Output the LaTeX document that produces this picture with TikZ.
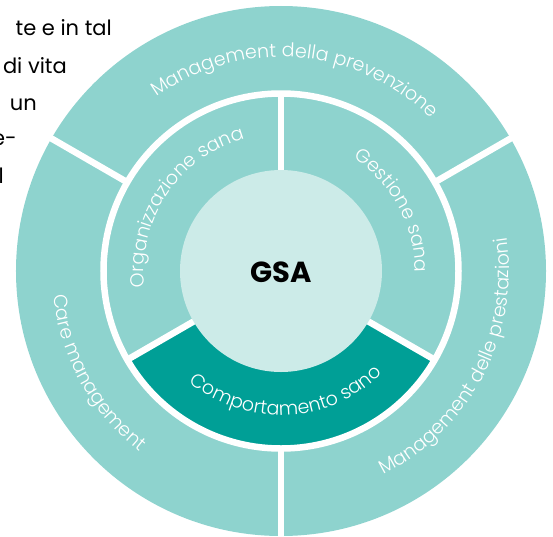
\documentclass[tikz,border=0pt]{standalone}
\usepackage{fontspec}
\setmainfont{Poppins}
\newfontfamily{\thinfont}{Poppins}[UprightFont=* Light]
\usetikzlibrary{decorations.text}
\definecolor{ringteal}{RGB}{142,211,206}
\definecolor{coreteal}{RGB}{204,235,232}
\definecolor{darkteal}{RGB}{0,159,150}
\newcommand{\ringfont}{\thinfont\fontsize{19pt}{19pt}\selectfont}
\tikzset{
  gap/.style       = {white, line width=6.5pt},
  para/.style      = {font=\fontsize{21pt}{26pt}\selectfont, text=black,
                      inner sep=0pt, anchor=base east},
  hub/.style       = {font=\bfseries\fontsize{29pt}{29pt}\selectfont, inner sep=0pt},
  ringlabel/.style = {decorate, decoration={text along path, text align=center,
                      text color=white, text={|\ringfont|#1}}},
}

\begin{document}
\begin{tikzpicture}
  \useasboundingbox (-281pt,-265pt) rectangle (272pt,271pt);

  % text column cut by the figure
  \node[para] (l1) at (-169pt,236pt) {te e in tal};
  \node[para] (l2) at (-214pt,198pt) {di vita};
  \node[para] (l3) at (-244pt,161pt) {un};
  \node[para] (l4) at (-264pt,126pt) {e-};
  \node[para] (l5) at (-277pt,88pt) {l};

  % rings
  \fill[ringteal] (0,0) circle[radius=265pt];
  \fill[darkteal] (210:100pt) arc[start angle=210, end angle=330, radius=100pt]
    -- (330:176pt) arc[start angle=330, end angle=210, radius=176pt] -- cycle;
  \foreach \a in {30,150,270}
    \draw[gap] (\a:177pt) -- (\a:272pt);
  \foreach \a in {90,210,330}
    \draw[gap] (\a:95pt) -- (\a:178pt);
  \draw[gap] (0,0) circle[radius=177.5pt];
  \fill[coreteal] (0,0) circle[radius=101pt];
  \node[hub] (gsa) at (0,-1pt) {GSA};

  % outer labels
  \path[ringlabel=Management della prevenzione]
    (155.5:214pt) arc[start angle=155.5, end angle=15.5, radius=214pt];
  \path[ringlabel=Care management]
    (149:229pt) arc[start angle=149, end angle=269, radius=229pt];
  \path[ringlabel=Management delle prestazioni]
    (272.6:228pt) arc[start angle=272.6, end angle=392.6, radius=228pt];

  % inner labels
  \path[ringlabel=Organizzazione sana]
    (206:137pt) arc[start angle=206, end angle=86, radius=137pt];
  \path[ringlabel=Gestione sana]
    (78.4:134pt) arc[start angle=78.4, end angle=-21.6, radius=134pt];
  \path[ringlabel=Comportamento sano]
    (212.5:144pt) arc[start angle=212.5, end angle=332.5, radius=144pt];
\end{tikzpicture}
\end{document}
